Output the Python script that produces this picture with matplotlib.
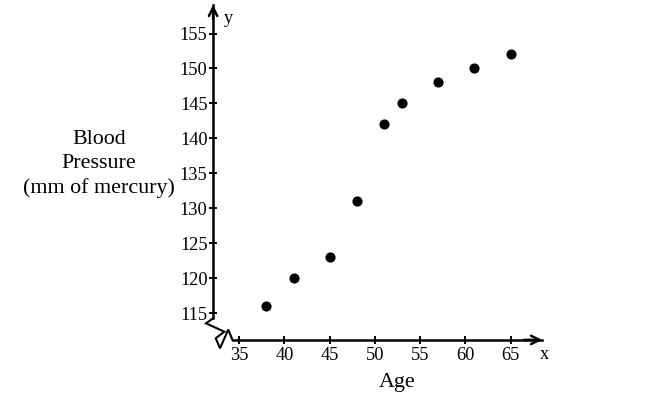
import matplotlib
matplotlib.use("Agg")
import matplotlib.pyplot as plt

# data
edad = [38, 41, 45, 48, 51, 53, 57, 61, 65]
presion = [116, 120, 123, 131, 142, 145, 148, 150, 152]

xticks = [35, 40, 45, 50, 55, 60, 65]
yticks = [115, 120, 125, 130, 135, 140, 145, 150, 155]

# where the two axes cross (with the break)
x0 = 32.1
y0 = 111.2
x_tip = 68.5
y_tip = 159.1

plt.rcParams["font.family"] = ["Liberation Serif", "DejaVu Serif"]

fig = plt.figure(figsize=(6.5, 3.99), dpi=100)
ax = fig.add_axes([0, 0, 1, 1])
ax.set_xlim(8.53, 80.43)
ax.set_ylim(102.75, 159.79)
ax.patch.set_alpha(0)

# ejes
lw = 1.8
ax.spines["top"].set_visible(False)
ax.spines["right"].set_visible(False)
ax.spines["left"].set_position(("data", x0))
ax.spines["bottom"].set_position(("data", y0))
ax.spines["left"].set_bounds(114.3, y_tip)
ax.spines["bottom"].set_bounds(34.25, x_tip)
ax.spines["left"].set_linewidth(lw)
ax.spines["bottom"].set_linewidth(lw)

ax.set_xticks(xticks)
ax.set_yticks(yticks)
ax.tick_params(direction="inout", length=6, width=1.4, labelsize=13.2,
               colors="black")
ax.tick_params(axis="y", pad=1)
ax.tick_params(axis="x", pad=2)

# flechas
ax.annotate("", xy=(x0, y_tip), xytext=(x0, y_tip - 2),
            arrowprops=dict(arrowstyle="->", lw=lw, mutation_scale=15,
                            shrinkA=0, shrinkB=0))
ax.annotate("", xy=(x_tip, y0), xytext=(x_tip - 2, y0),
            arrowprops=dict(arrowstyle="->", lw=lw, mutation_scale=15,
                            shrinkA=0, shrinkB=0))

# simbolo de corte
corte_x = [32.12, 31.32, 33.34, 32.39, 32.87, 33.78, 34.25]
corte_y = [114.3, 113.57, 112.37, 111.43, 110.0, 112.68, 111.18]
ax.plot(corte_x, corte_y, color="black", lw=1.5, solid_joinstyle="miter")

# puntos
ax.plot(edad, presion, "o", color="black", markersize=6.3)

ax.text(x0 + 1.2, y_tip - 2.0, "y", fontsize=13.2, ha="left", va="center")
ax.text(x_tip - 0.2, y0 - 2.1, "x", fontsize=13.2, ha="left", va="center")

fig.text(99 / 650, 1 - 164 / 399, "Blood\nPressure\n(mm of mercury)",
         fontsize=15.8, ha="center", va="center", linespacing=1.35)
fig.text(397 / 650, 1 - 382 / 399, "Age", fontsize=15.8,
         ha="center", va="center")

fig.savefig("out.png", dpi=100)
